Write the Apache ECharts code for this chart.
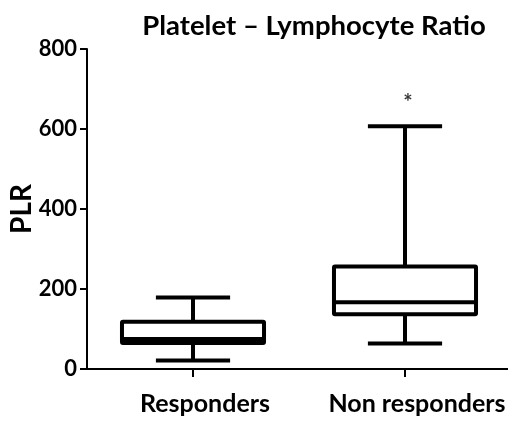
<!DOCTYPE html>
<html>
<head>
<meta charset="utf-8">
<script src="https://cdn.jsdelivr.net/npm/echarts@6/dist/echarts.min.js"></script>
<style>
  html, body { margin: 0; padding: 0; background: #fff; }
  #chart { width: 508px; height: 425px; }
</style>
</head>
<body>
<div id="chart"></div>
<script>
// 数据：箱线图 [最小值, 下四分位, 中位数, 上四分位, 最大值]
var categories = ['Responders', 'Non responders'];
var respondersBox = [21, 65, 75, 118, 179];
var nonRespondersBox = [64, 137, 167, 256, 607];
var yTicks = [0, 200, 400, 600, 800];
var sigMarks = [[1, 665]];

var fontFam = 'Lato, "Open Sans", sans-serif';

var chart = echarts.init(document.getElementById('chart'));

var boxData = [
  [0].concat(respondersBox),
  [1].concat(nonRespondersBox)
];

function renderBox(params, api) {
  var idx = api.value(0);
  var band = api.size([1, 0])[0];
  var halfBox = band * 0.335;
  var halfCap = band * 0.175;
  var pMin = api.coord([idx, api.value(1)]);
  var pQ1 = api.coord([idx, api.value(2)]);
  var pMed = api.coord([idx, api.value(3)]);
  var pQ3 = api.coord([idx, api.value(4)]);
  var pMax = api.coord([idx, api.value(5)]);
  var x = pMed[0];
  var st = { stroke: '#000', lineWidth: 4, fill: null };
  return {
    type: 'group',
    children: [
      { type: 'line', shape: { x1: x, y1: pQ3[1], x2: x, y2: pMax[1] }, style: st },
      { type: 'line', shape: { x1: x, y1: pQ1[1], x2: x, y2: pMin[1] }, style: st },
      { type: 'line', shape: { x1: x - halfCap, y1: pMax[1], x2: x + halfCap, y2: pMax[1] }, style: st },
      { type: 'line', shape: { x1: x - halfCap, y1: pMin[1], x2: x + halfCap, y2: pMin[1] }, style: st },
      { type: 'rect', shape: { x: x - halfBox, y: pQ3[1], width: halfBox * 2, height: pQ1[1] - pQ3[1], r: 1 },
        style: { stroke: '#000', lineWidth: 4, fill: '#fff' } },
      { type: 'line', shape: { x1: x - halfBox, y1: pMed[1], x2: x + halfBox, y2: pMed[1] }, style: st }
    ]
  };
}

var option = {
  backgroundColor: '#fff',
  animation: false,
  title: {
    text: 'Platelet \u2013 Lymphocyte Ratio',
    left: 309,
    top: 7,
    textAlign: 'center',
    textStyle: { fontFamily: fontFam, fontWeight: 'bold', fontSize: 27.5, color: '#000' }
  },
  grid: { left: 87, top: 49, width: 424, height: 320, outerBoundsMode: 'none', containLabel: false },
  xAxis: {
    type: 'category',
    data: categories,
    boundaryGap: true,
    axisLine: { lineStyle: { color: '#000', width: 2 } },
    axisTick: { show: true, alignWithLabel: true, length: 8, lineStyle: { color: '#000', width: 2 } },
    axisLabel: {
      interval: 0,
      hideOverlap: false,
      margin: 22,
      padding: [0, 0, 0, 24],
      color: '#000',
      fontFamily: fontFam,
      fontWeight: 'bold',
      fontSize: 25
    },
    splitLine: { show: false }
  },
  yAxis: {
    type: 'value',
    min: 0,
    max: 800,
    interval: 200,
    name: 'PLR',
    nameLocation: 'middle',
    nameGap: 51,
    nameRotate: 90,
    nameMoveOverlap: false,
    nameTextStyle: { fontFamily: fontFam, fontWeight: 'bold', fontSize: 28, color: '#000' },
    axisLine: { show: true, lineStyle: { color: '#000', width: 2 } },
    axisTick: { show: true, length: 7, lineStyle: { color: '#000', width: 2 } },
    axisLabel: {
      margin: 10,
      color: '#000',
      fontFamily: fontFam,
      fontWeight: 'bold',
      fontSize: 22,
      formatter: function (v) { return yTicks.indexOf(v) >= 0 ? String(v) : ''; }
    },
    splitLine: { show: false }
  },
  series: [
    {
      type: 'custom',
      renderItem: renderBox,
      encode: { x: 0, y: [1, 2, 3, 4, 5] },
      data: boxData
    },
    {
      type: 'scatter',
      symbolSize: 0,
      data: sigMarks,
      label: {
        show: true,
        position: 'inside',
        offset: [3, 0],
        formatter: '*',
        color: '#000',
        fontFamily: fontFam,
        fontWeight: 'bold',
        fontSize: 22
      }
    }
  ]
};

chart.setOption(option);
</script>
</body>
</html>
